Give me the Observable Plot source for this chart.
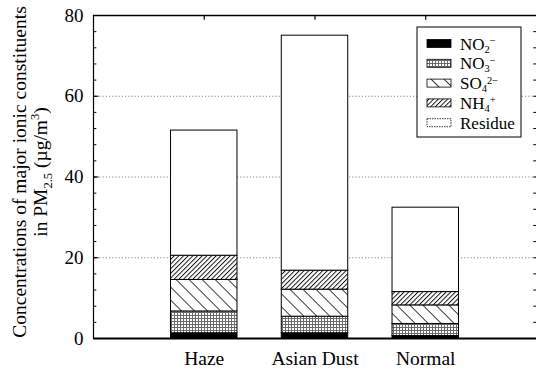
<!DOCTYPE html>
<html>
<head>
<meta charset="utf-8">
<script src="https://cdn.jsdelivr.net/npm/d3@7"></script>
<script src="https://cdn.jsdelivr.net/npm/@observablehq/plot@0.6"></script>
<style>
  html, body { margin: 0; padding: 0; background: #fff; }
</style>
</head>
<body>
<div id="chart"></div>
<script>
// Stacked ionic constituents of PM2.5 (µg/m³) for each sampling condition
const categories = ["Haze", "Asian Dust", "Normal"];
const components = ["NO2", "NO3", "SO4", "NH4", "Residue"];
const no2 = [1.3, 1.3, 0.6];
const no3 = [5.4, 4.1, 3.0];
const so4 = [7.8, 6.7, 4.6];
const nh4 = [6.0, 4.7, 3.3];
const residue = [31.0, 58.2, 20.9];
const yTicks = [0, 20, 40, 60, 80];
const gridLines = [20, 40, 60];

const series = {NO2: no2, NO3: no3, SO4: so4, NH4: nh4, Residue: residue};
const fills = {
  NO2: "#000",
  NO3: "url(#pat-no3)",
  SO4: "url(#pat-so4)",
  NH4: "url(#pat-nh4)",
  Residue: "#fff"
};

// Build stacked segments (bottom to top in component order)
const segments = [];
categories.forEach((cat, i) => {
  let base = 0;
  components.forEach(c => {
    const v = series[c][i];
    segments.push({category: cat, pos: i + 1, component: c, y1: base, y2: base + v});
    base += v;
  });
});

const half = 0.3;                       // half bar width in x units
const minorTicks = d3.range(0, 81, 4);  // small inward ticks every 4 units
const serif = "Liberation Serif";

const plot = Plot.plot({
  width: 536,
  height: 370,
  marginLeft: 93,
  marginRight: 0,
  marginTop: 15,
  marginBottom: 32,
  style: {fontFamily: serif, color: "#000", background: "#fff", overflow: "visible"},
  x: {domain: [0, 4]},
  y: {domain: [0, 80]},
  marks: [
    Plot.ruleY(gridLines, {stroke: "#8c8c8c", strokeWidth: 1, strokeDasharray: "1.2 2"}),
    ...components.map(c =>
      Plot.rect(segments.filter(d => d.component === c), {
        x1: d => d.pos - half,
        x2: d => d.pos + half,
        y1: "y1",
        y2: "y2",
        fill: fills[c],
        stroke: "#000",
        strokeWidth: 1
      })
    ),
    Plot.ruleY([0], {stroke: "#000", strokeWidth: 2}),
    Plot.ruleY([80], {stroke: "#000", strokeWidth: 1.6}),
    Plot.ruleX([0], {stroke: "#000", strokeWidth: 1.2}),
    Plot.ruleY(minorTicks, {x1: 0, x2: 0.03, stroke: "#000"}),
    Plot.ruleY(yTicks, {x1: 0, x2: 0.05, stroke: "#000"}),
    Plot.ruleY(minorTicks, {x1: 3.975, x2: 4, stroke: "#000"}),
    Plot.ruleX([1, 2, 3], {y1: 80, y2: 78.8, stroke: "#000", strokeWidth: 1.2}),
    Plot.axisY({ticks: yTicks, tickSize: 0, tickPadding: 10, fontSize: 19, label: null}),
    Plot.axisX({
      ticks: [1, 2, 3],
      tickFormat: d => categories[d - 1],
      tickSize: 0,
      tickPadding: 12.5,
      fontSize: 19.5,
      label: null
    })
  ]
});

const svg = d3.select(plot);

// Hatch patterns used by the stacked segments
const defs = svg.insert("defs", ":first-child");
const pNo3 = defs.append("pattern").attr("id", "pat-no3")
  .attr("patternUnits", "userSpaceOnUse").attr("width", 3).attr("height", 3);
pNo3.append("rect").attr("width", 3).attr("height", 3).attr("fill", "#fff");
pNo3.append("rect").attr("width", 3).attr("height", 1).attr("fill", "#6a6a6a");
pNo3.append("rect").attr("width", 1).attr("height", 3).attr("fill", "#6a6a6a");

const pSo4 = defs.append("pattern").attr("id", "pat-so4")
  .attr("patternUnits", "userSpaceOnUse").attr("width", 9.2).attr("height", 10)
  .attr("patternTransform", "rotate(-45)");
pSo4.append("rect").attr("width", 9.2).attr("height", 10).attr("fill", "#fff");
pSo4.append("line").attr("x1", 0.5).attr("x2", 0.5).attr("y1", 0).attr("y2", 10)
  .attr("stroke", "#000").attr("stroke-width", 0.8);

const pNh4 = defs.append("pattern").attr("id", "pat-nh4")
  .attr("patternUnits", "userSpaceOnUse").attr("width", 3.3).attr("height", 10)
  .attr("patternTransform", "rotate(45)");
pNh4.append("rect").attr("width", 3.3).attr("height", 10).attr("fill", "#fff");
pNh4.append("line").attr("x1", 0.5).attr("x2", 0.5).attr("y1", 0).attr("y2", 10)
  .attr("stroke", "#000").attr("stroke-width", 0.9);

// Rotated two-line y-axis title with sub/superscripts
const ytitle = svg.append("g")
  .attr("font-family", serif).attr("font-size", 19.5).attr("fill", "#000")
  .attr("text-anchor", "middle");
ytitle.append("text")
  .attr("transform", "translate(26,172) rotate(-90)")
  .text("Concentrations of major ionic constituents");
const t2 = ytitle.append("text").attr("transform", "translate(47,172) rotate(-90)");
t2.append("tspan").text("in PM");
t2.append("tspan").attr("font-size", 12.5).attr("dy", 5).text("2.5");
t2.append("tspan").attr("dy", -5).text(" (\u00b5g/m");
t2.append("tspan").attr("font-size", 12.5).attr("dy", -8).text("3");
t2.append("tspan").attr("dy", 8).text(")");

// Legend box
const legend = svg.append("g").attr("font-family", serif).attr("fill", "#000")
  .attr("text-anchor", "start");
legend.append("rect").attr("x", 417).attr("y", 27).attr("width", 104).attr("height", 110)
  .attr("fill", "#fff").attr("stroke", "#000").attr("stroke-width", 1);

const legendRows = [
  {key: "NO2", base: "NO", sub: "2", sup: "\u2212"},
  {key: "NO3", base: "NO", sub: "3", sup: "\u2212"},
  {key: "SO4", base: "SO", sub: "4", sup: "2\u2212"},
  {key: "NH4", base: "NH", sub: "4", sup: "+"},
  {key: "Residue", base: "Residue", sub: "", sup: ""}
];
legendRows.forEach((r, i) => {
  const cy = 43.5 + i * 19.8;
  legend.append("rect").attr("x", 427).attr("y", cy - 4).attr("width", 24).attr("height", 8)
    .attr("fill", fills[r.key]).attr("stroke", "#000").attr("stroke-width", 0.8)
    .attr("stroke-dasharray", r.key === "Residue" ? "1.5 1" : null);
  const t = legend.append("text").attr("x", 460).attr("y", cy + 6).attr("font-size", 17);
  t.append("tspan").text(r.base);
  if (r.sub) {
    t.append("tspan").attr("font-size", 10.5).attr("dy", 3).text(r.sub);
    t.append("tspan").attr("font-size", 10.5).attr("dy", -8.5).text(r.sup);
  }
});

document.getElementById("chart").appendChild(plot);
</script>
</body>
</html>
